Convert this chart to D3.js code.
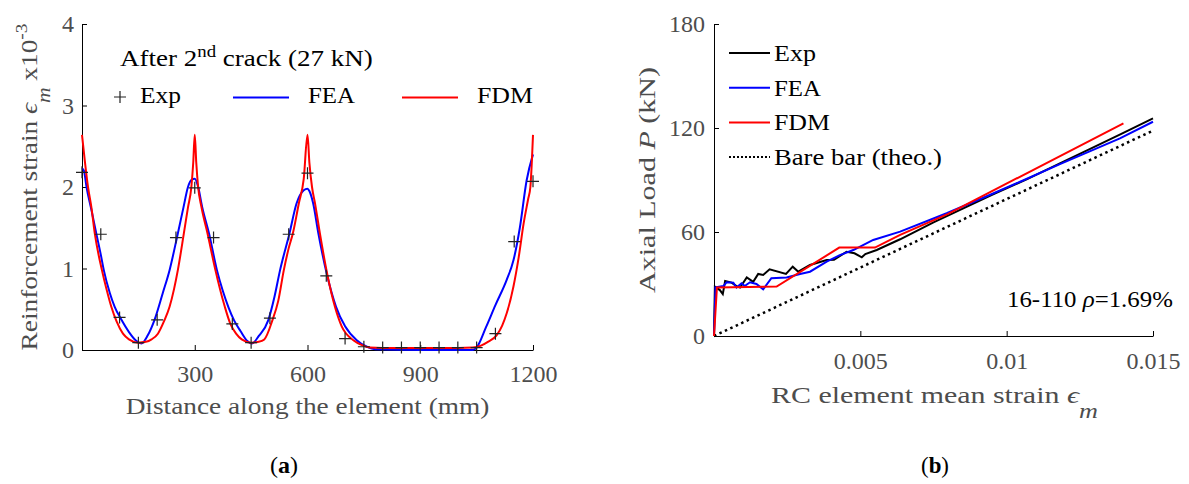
<!DOCTYPE html>
<html>
<head>
<meta charset="utf-8">
<script src="https://cdn.jsdelivr.net/npm/d3@7"></script>
<style>
  body { margin: 0; background: #fff; }
  svg { font-family: "Liberation Serif", serif; }
  .domain, .tick line { stroke: #000; }
</style>
</head>
<body>
<div id="chart"></div>
<script>
// (a) strain along the element, [distance mm, strain x10^-3]
var expStrain = [[0,2.18],[50,1.42],[100,0.40],[150,0.09],[200,0.37],[250,1.38],[300,1.99],[350,1.38],
  [400,0.32],[450,0.09],[500,0.39],[550,1.42],[600,2.17],[650,0.91],[700,0.14],[750,0.04],[800,0.03],
  [850,0.03],[900,0.03],[950,0.03],[1000,0.03],[1050,0.03],[1100,0.2],[1150,1.33],[1200,2.07]];

var feaStrain = [[0,2.23],[5,2.2],[12,2.0],[25,1.72],[38,1.43],[50,1.17],[58,0.98],[74,0.70],[87,0.53],
  [105,0.37],[125,0.22],[145,0.11],[158,0.08],[175,0.18],[193,0.37],[215,0.70],[233,0.98],[255,1.43],
  [270,1.75],[282,2.0],[292,2.09],[300,2.1],[308,2.02],[320,1.75],[338,1.43],[359,0.98],[375,0.72],
  [390,0.52],[405,0.36],[422,0.23],[440,0.11],[452,0.08],[470,0.17],[496,0.37],[512,0.65],[527,0.98],
  [552,1.43],[571,1.80],[590,1.96],[600,1.98],[605,1.95],[615,1.80],[629,1.43],[652,0.92],[676,0.53],
  [700,0.29],[731,0.12],[758,0.04],[780,0.01],[900,0.0],[1040,0.0],[1050,0.03],[1075,0.28],[1100,0.55],
  [1130,0.86],[1148,1.1],[1165,1.5],[1183,2.08],[1200,2.4]];

var fdmStrain = [[0,2.64],[8,2.3],[16,2.0],[25,1.75],[34,1.43],[53,0.98],[65,0.75],[78,0.53],[92,0.35],
  [109,0.2],[125,0.13],[149,0.09],[170,0.1],[185,0.13],[202,0.2],[218,0.35],[233,0.53],[245,0.75],
  [255,0.98],[271,1.43],[282,1.75],[291,2.0],[296,2.3],[300,2.64],[304,2.3],[309,2.0],[318,1.75],
  [334,1.43],[355,0.98],[367,0.75],[380,0.53],[394,0.33],[410,0.2],[425,0.13],[450,0.09],[470,0.1],
  [485,0.13],[507,0.37],[522,0.6],[537,0.98],[550,1.25],[561,1.43],[577,1.8],[590,2.1],[600,2.64],
  [605,2.3],[612,2.0],[620,1.8],[633,1.43],[653,0.92],[673,0.53],[691,0.29],[722,0.12],[745,0.06],
  [766,0.03],[800,0.025],[1000,0.025],[1040,0.03],[1060,0.05],[1080,0.1],[1103,0.18],[1118,0.3],
  [1130,0.45],[1148,0.78],[1162,1.14],[1175,1.55],[1187,1.85],[1193,2.0],[1200,2.64]];

var distTicks = [300, 600, 900, 1200];
var strainTicks = [0, 1, 2, 3, 4];

// (b) load vs mean strain, [strain, P kN]
var expLoad = [[0,0],[0.00003,28.5],[0.0002,26.5],[0.0003,24.2],[0.00038,31.7],[0.0006,30.8],[0.00077,28.8],
  [0.00089,28],[0.00112,33.8],[0.00134,31.3],[0.00151,35.8],[0.00168,35.2],[0.0019,38.5],[0.00246,35.8],
  [0.00269,40],[0.00288,37.1],[0.00328,41],[0.00385,43.8],[0.0041,44],[0.00453,48.6],[0.0048,47.7],
  [0.00505,45.4],[0.00517,47.3],[0.00556,49.6],[0.00636,55.8],[0.0075,65.5],[0.0085,73.5],[0.0095,81.5],
  [0.0107,90.5],[0.0118,99.5],[0.0128,107.5],[0.0139,116.5],[0.015,125.6]];

var feaLoad = [[0,0],[0.00005,28],[0.00032,28.8],[0.00043,31],[0.00066,30.8],[0.00077,28],[0.00094,30.4],
  [0.00105,28.8],[0.00123,31],[0.00145,30],[0.00168,26.9],[0.00196,33.3],[0.00248,33.7],[0.00294,35.8],
  [0.00328,37.1],[0.00385,42.9],[0.0043,46.7],[0.00476,49.6],[0.00544,55.4],[0.00636,60.2],[0.00795,70.8],
  [0.0093,80.5],[0.01046,89],[0.0118,99],[0.01387,114],[0.015,123.6]];

var fdmLoad = [[0,0],[0.0001,28],[0.00214,28.5],[0.00428,51],[0.0055,51],[0.00636,58.3],[0.008,70.5],[0.01399,122.7]];

var bareLoad = [[0,0],[0.015,118.5]];

var meanStrainTicks = [0.005, 0.01, 0.015];
var loadTicks = [0, 60, 120, 180];

var svg = d3.select('#chart').append('svg')
  .attr('width', 1189)
  .attr('height', 484);

// text placed at (x,y), optionally rotated, then stretched to the width seen in the figure
function label(x, y, rot, w, build) {
  var g = svg.append('g').attr('transform', 'translate(' + x + ',' + y + ')' + (rot ? ' rotate(' + rot + ')' : ''));
  var t = g.append('text');
  build(t);
  if (w) {
    var k = w / t.node().getComputedTextLength();
    t.attr('transform', 'scale(' + k + ',1)');
  }
  return t;
}

function styleTicks(g) {
  g.selectAll('.tick text')
    .attr('font-family', '"Liberation Serif", serif')
    .attr('font-size', 24)
    .attr('fill', '#4d4d4d');
}

// ---------- panel (a)
var xa = d3.scaleLinear().domain([0, 1200]).range([82, 533]);
var ya = d3.scaleLinear().domain([0, 4]).range([350, 24]);

svg.append('g')
  .attr('transform', 'translate(0,350)')
  .call(d3.axisBottom(xa).tickValues(distTicks).tickFormat(d3.format('d'))
    .tickSizeInner(-5).tickSizeOuter(0).tickPadding(15))
  .call(styleTicks);

svg.append('g')
  .attr('transform', 'translate(82,0)')
  .call(d3.axisLeft(ya).tickValues(strainTicks).tickFormat(d3.format('d'))
    .tickSizeInner(-5).tickSizeOuter(0).tickPadding(8))
  .call(styleTicks);

var lineA = d3.line().x(d => xa(d[0])).y(d => ya(d[1])).curve(d3.curveMonotoneX);

svg.append('path').datum(feaStrain).attr('d', lineA)
  .attr('fill', 'none').attr('stroke', '#0000ff').attr('stroke-width', 2);
svg.append('path').datum(fdmStrain).attr('d', lineA)
  .attr('fill', 'none').attr('stroke', '#ff0000').attr('stroke-width', 2);

function plus(g, x, y, s) {
  g.append('path')
    .attr('d', 'M' + (x - s) + ',' + y + 'H' + (x + s) + 'M' + x + ',' + (y - s) + 'V' + (y + s))
    .attr('stroke', '#222').attr('stroke-width', 1.2).attr('fill', 'none');
}
var expG = svg.append('g');
expStrain.forEach(d => plus(expG, xa(d[0]), ya(d[1]), 6));

// legend (a)
label(120, 66, 0, 253, t => {
  t.attr('font-size', 23);
  t.append('tspan').text('After 2');
  t.append('tspan').attr('dy', -9).attr('font-size', 16).text('nd');
  t.append('tspan').attr('dy', 9).text(' crack (27 kN)');
});
plus(svg, 120, 97, 6);
label(140, 103, 0, 41, t => t.attr('font-size', 24).text('Exp'));
svg.append('line').attr('x1', 233).attr('x2', 289).attr('y1', 97.5).attr('y2', 97.5)
  .attr('stroke', '#0000ff').attr('stroke-width', 2);
label(308, 103, 0, 47, t => t.attr('font-size', 24).text('FEA'));
svg.append('line').attr('x1', 402).attr('x2', 458).attr('y1', 97.5).attr('y2', 97.5)
  .attr('stroke', '#ff0000').attr('stroke-width', 2);
label(477, 103, 0, 56, t => t.attr('font-size', 24).text('FDM'));

// axis titles (a)
label(307.5, 414, 0, 364, t => t.attr('text-anchor', 'middle')
  .attr('font-size', 24).attr('fill', '#4d4d4d')
  .text('Distance along the element (mm)'));

label(37, 187, -90, 327, t => {
  t.attr('text-anchor', 'middle').attr('font-size', 24).attr('fill', '#4d4d4d');
  t.append('tspan').text('Reinforcement strain  ');
  t.append('tspan').attr('font-style', 'italic').text('\u03f5');
  t.append('tspan').attr('font-style', 'italic').attr('dy', 13).attr('font-size', 19).text('m');
  t.append('tspan').attr('dy', -13).text(' x10');
  t.append('tspan').attr('dy', -10).attr('font-size', 17).text('-3');
});

label(284, 473, 0, 28, t => {
  t.attr('text-anchor', 'middle').attr('font-size', 24);
  t.append('tspan').text('(');
  t.append('tspan').attr('font-weight', 'bold').text('a');
  t.append('tspan').text(')');
});

// ---------- panel (b)
var xb = d3.scaleLinear().domain([0, 0.015]).range([714, 1153]);
var yb = d3.scaleLinear().domain([0, 180]).range([336, 24]);

svg.append('g')
  .attr('transform', 'translate(0,336)')
  .call(d3.axisBottom(xb).tickValues(meanStrainTicks).tickFormat(d3.format('~g'))
    .tickSizeInner(-5).tickSizeOuter(0).tickPadding(16))
  .call(styleTicks);

svg.append('g')
  .attr('transform', 'translate(714,0)')
  .call(d3.axisLeft(yb).tickValues(loadTicks).tickSizeInner(-5).tickSizeOuter(0).tickPadding(9))
  .call(styleTicks);

var lineB = d3.line().x(d => xb(d[0])).y(d => yb(d[1]));

svg.append('path').datum(bareLoad).attr('d', lineB)
  .attr('fill', 'none').attr('stroke', '#000').attr('stroke-width', 2.5).attr('stroke-dasharray', '2.5,3.5');
svg.append('path').datum(expLoad).attr('d', lineB)
  .attr('fill', 'none').attr('stroke', '#000').attr('stroke-width', 2);
svg.append('path').datum(feaLoad).attr('d', lineB)
  .attr('fill', 'none').attr('stroke', '#0000ff').attr('stroke-width', 2);
svg.append('path').datum(fdmLoad).attr('d', lineB)
  .attr('fill', 'none').attr('stroke', '#ff0000').attr('stroke-width', 2);

// legend (b)
var legendB = [
  {name: 'Exp', color: '#000', dash: null, w: 42},
  {name: 'FEA', color: '#0000ff', dash: null, w: 47},
  {name: 'FDM', color: '#ff0000', dash: null, w: 56},
  {name: 'Bare bar (theo.)', color: '#000', dash: '2,2', w: 168}
];
legendB.forEach(function (d, i) {
  var y = 53 + i * 34.7;
  svg.append('line').attr('x1', 729).attr('x2', 770).attr('y1', y).attr('y2', y)
    .attr('stroke', d.color).attr('stroke-width', 2).attr('stroke-dasharray', d.dash);
  label(774, y + 8, 0, d.w, t => t.attr('font-size', 24).text(d.name));
});

label(1007, 307, 0, 166, t => {
  t.attr('font-size', 23);
  t.append('tspan').text('16-110 ');
  t.append('tspan').attr('font-style', 'italic').text('\u03c1');
  t.append('tspan').text('=1.69%');
});

label(771, 403, 0, 327, t => {
  t.attr('font-size', 24).attr('fill', '#4d4d4d');
  t.append('tspan').text('RC element mean strain  ');
  t.append('tspan').attr('font-style', 'italic').text('\u03f5');
  t.append('tspan').attr('font-style', 'italic').attr('dy', 15).attr('font-size', 21).text('m');
});

label(655, 180, -90, 226, t => {
  t.attr('text-anchor', 'middle').attr('font-size', 24).attr('fill', '#4d4d4d');
  t.append('tspan').text('Axial Load  ');
  t.append('tspan').attr('font-style', 'italic').text('P');
  t.append('tspan').text(' (kN)');
});

label(935, 473, 0, 28, t => {
  t.attr('text-anchor', 'middle').attr('font-size', 24);
  t.append('tspan').text('(');
  t.append('tspan').attr('font-weight', 'bold').text('b');
  t.append('tspan').text(')');
});
</script>
</body>
</html>
